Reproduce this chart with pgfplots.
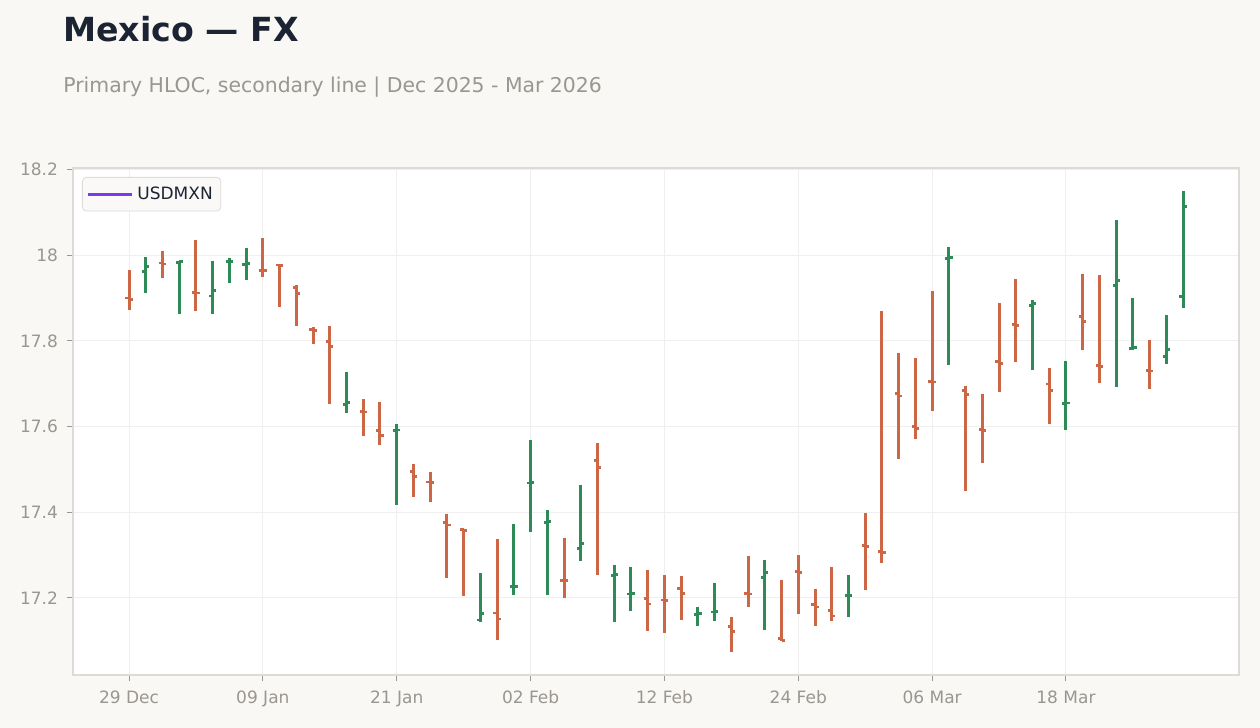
\documentclass[border=0pt]{standalone}
\usepackage{fontspec}
\setmainfont{DejaVu Sans}
\usepackage{pgfplots}
\usepackage{pgfplotstable}
\pgfplotsset{compat=1.18}
\definecolor{bgcol}{HTML}{F9F8F5}
\definecolor{titlecol}{HTML}{1C2333}
\definecolor{subcol}{HTML}{9A9691}
\definecolor{tickcol}{HTML}{9A9691}
\definecolor{framecol}{HTML}{DDDBD8}
\definecolor{gridcol}{HTML}{EFEFEF}
\definecolor{upcol}{HTML}{2E8B57}
\definecolor{downcol}{HTML}{CC6644}
\definecolor{linecol}{HTML}{7C3AED}
\definecolor{legbg}{HTML}{FAF9F7}

% up bars (close >= open)
\pgfplotstableread{
i o h l c
1 17.962 17.996 17.913 17.974
3 17.984 17.987 17.864 17.985
5 17.905 17.987 17.862 17.918
6 17.985 17.994 17.936 17.986
7 17.979 18.018 17.943 17.981
13 17.651 17.728 17.633 17.656
16 17.591 17.606 17.418 17.592
21 17.148 17.258 17.143 17.163
23 17.226 17.373 17.207 17.227
24 17.468 17.569 17.355 17.469
25 17.376 17.405 17.207 17.378
27 17.315 17.464 17.287 17.327
29 17.252 17.277 17.144 17.254
30 17.209 17.272 17.170 17.210
34 17.161 17.178 17.135 17.163
35 17.167 17.235 17.147 17.168
38 17.247 17.289 17.126 17.259
43 17.205 17.253 17.156 17.206
49 17.992 18.020 17.745 17.995
54 17.883 17.896 17.733 17.887
56 17.654 17.754 17.593 17.655
59 17.929 18.083 17.693 17.941
60 17.782 17.901 17.780 17.785
62 17.764 17.861 17.747 17.780
63 17.904 18.151 17.878 18.114
}\upbars

% down bars (close < open)
\pgfplotstableread{
i o h l c
0 17.900 17.966 17.873 17.897
2 17.982 18.011 17.946 17.980
4 17.913 18.036 17.869 17.912
8 17.965 18.041 17.950 17.964
9 17.977 17.977 17.880 17.976
10 17.925 17.930 17.836 17.911
11 17.827 17.832 17.792 17.824
12 17.799 17.835 17.654 17.787
14 17.635 17.665 17.579 17.634
15 17.591 17.658 17.556 17.579
17 17.495 17.513 17.436 17.483
18 17.471 17.494 17.425 17.469
19 17.376 17.396 17.247 17.370
20 17.360 17.360 17.205 17.357
22 17.165 17.338 17.102 17.151
26 17.241 17.340 17.200 17.240
28 17.521 17.562 17.254 17.504
31 17.198 17.265 17.123 17.186
32 17.195 17.253 17.119 17.194
33 17.222 17.251 17.149 17.210
36 17.133 17.155 17.074 17.121
37 17.210 17.298 17.179 17.209
39 17.105 17.242 17.099 17.100
40 17.261 17.300 17.163 17.260
41 17.184 17.221 17.135 17.179
42 17.170 17.272 17.147 17.158
44 17.322 17.398 17.219 17.320
45 17.308 17.870 17.282 17.306
46 17.677 17.772 17.525 17.672
47 17.600 17.761 17.570 17.595
48 17.705 17.917 17.637 17.704
50 17.684 17.695 17.450 17.675
51 17.593 17.676 17.516 17.591
52 17.752 17.889 17.682 17.747
53 17.838 17.945 17.752 17.836
55 17.700 17.737 17.605 17.684
57 17.857 17.957 17.778 17.845
58 17.743 17.954 17.703 17.740
61 17.731 17.803 17.689 17.730
}\downbars

\pgfplotsset{
  hl/.style={draw=none, mark=none, forget plot,
    error bars/.cd, y dir=plus, y explicit, error mark=none,
    error bar style={draw=#1, line width=1.5pt}},
  otick/.style={draw=none, mark=none, forget plot,
    error bars/.cd, x dir=minus, x fixed=0.22, error mark=none,
    error bar style={draw=#1, line width=1.3pt}},
  ctick/.style={draw=none, mark=none, forget plot,
    error bars/.cd, x dir=plus, x fixed=0.22, error mark=none,
    error bar style={draw=#1, line width=1.3pt}},
}

\begin{document}
\begin{tikzpicture}
\fill[bgcol] (0,0) rectangle (630pt,364pt);
\begin{axis}[
  at={(36.5pt,26.5pt)}, anchor=south west,
  scale only axis, width=583pt, height=253.5pt,
  xmin=-3.347, xmax=66.34, ymin=17.020, ymax=18.204,
  xtick={0,8,16,24,32,40,48,56},
  xticklabels={29 Dec,09 Jan,21 Jan,02 Feb,12 Feb,24 Feb,06 Mar,18 Mar},
  ytick={17.2,17.4,17.6,17.8,18,18.2},
  yticklabels={17.2,17.4,17.6,17.8,18,18.2},
  /pgf/number format/assume math mode=true,
  tick align=outside, tick pos=left,
  major tick length=3pt,
  tick style={draw=tickcol, line width=0.5pt},
  axis line style={draw=framecol, line width=0.6pt},
  grid=major, grid style={draw=gridcol, line width=0.5pt},
  axis background/.style={fill=white},
  tick label style={font=\fontsize{8.5}{10}\selectfont, text=tickcol},
  xticklabel style={yshift=-1.5pt},
  yticklabel style={xshift=-1pt},
  legend style={at={(0,1)}, anchor=north west, xshift=4.5pt, yshift=-4.5pt,
    draw=framecol, fill=legbg, rounded corners=2pt,
    font=\fontsize{8.5}{10}\selectfont, text=titlecol,
    inner xsep=2pt, inner ysep=2.5pt},
  legend cell align=left,
  legend image code/.code={\draw[#1] (0pt,0pt) -- (18.5pt,0pt); \path (0pt,0pt) -- (22pt,0pt);},
]
% high-low lines
\addplot[hl=upcol] table[x=i, y=l, y error expr=\thisrow{h}-\thisrow{l}] {\upbars};
\addplot[hl=downcol] table[x=i, y=l, y error expr=\thisrow{h}-\thisrow{l}] {\downbars};
% open ticks
\addplot[otick=upcol] table[x=i, y=o] {\upbars};
\addplot[otick=downcol] table[x=i, y=o] {\downbars};
% close ticks
\addplot[ctick=upcol] table[x=i, y=c] {\upbars};
\addplot[ctick=downcol] table[x=i, y=c] {\downbars};
\addlegendimage{draw=linecol, line width=1.5pt}
\addlegendentry{USDMXN}
\end{axis}
\node[anchor=base west, inner sep=0pt, text=titlecol,
  font=\fontsize{16.6}{20}\selectfont\bfseries] at (31.5pt,343.2pt) {Mexico — FX};
\node[anchor=base west, inner sep=0pt, text=subcol,
  font=\fontsize{10.2}{12}\selectfont] at (31.5pt,317.8pt)
  {Primary HLOC, secondary line | Dec 2025 - Mar 2026};
\end{tikzpicture}
\end{document}
